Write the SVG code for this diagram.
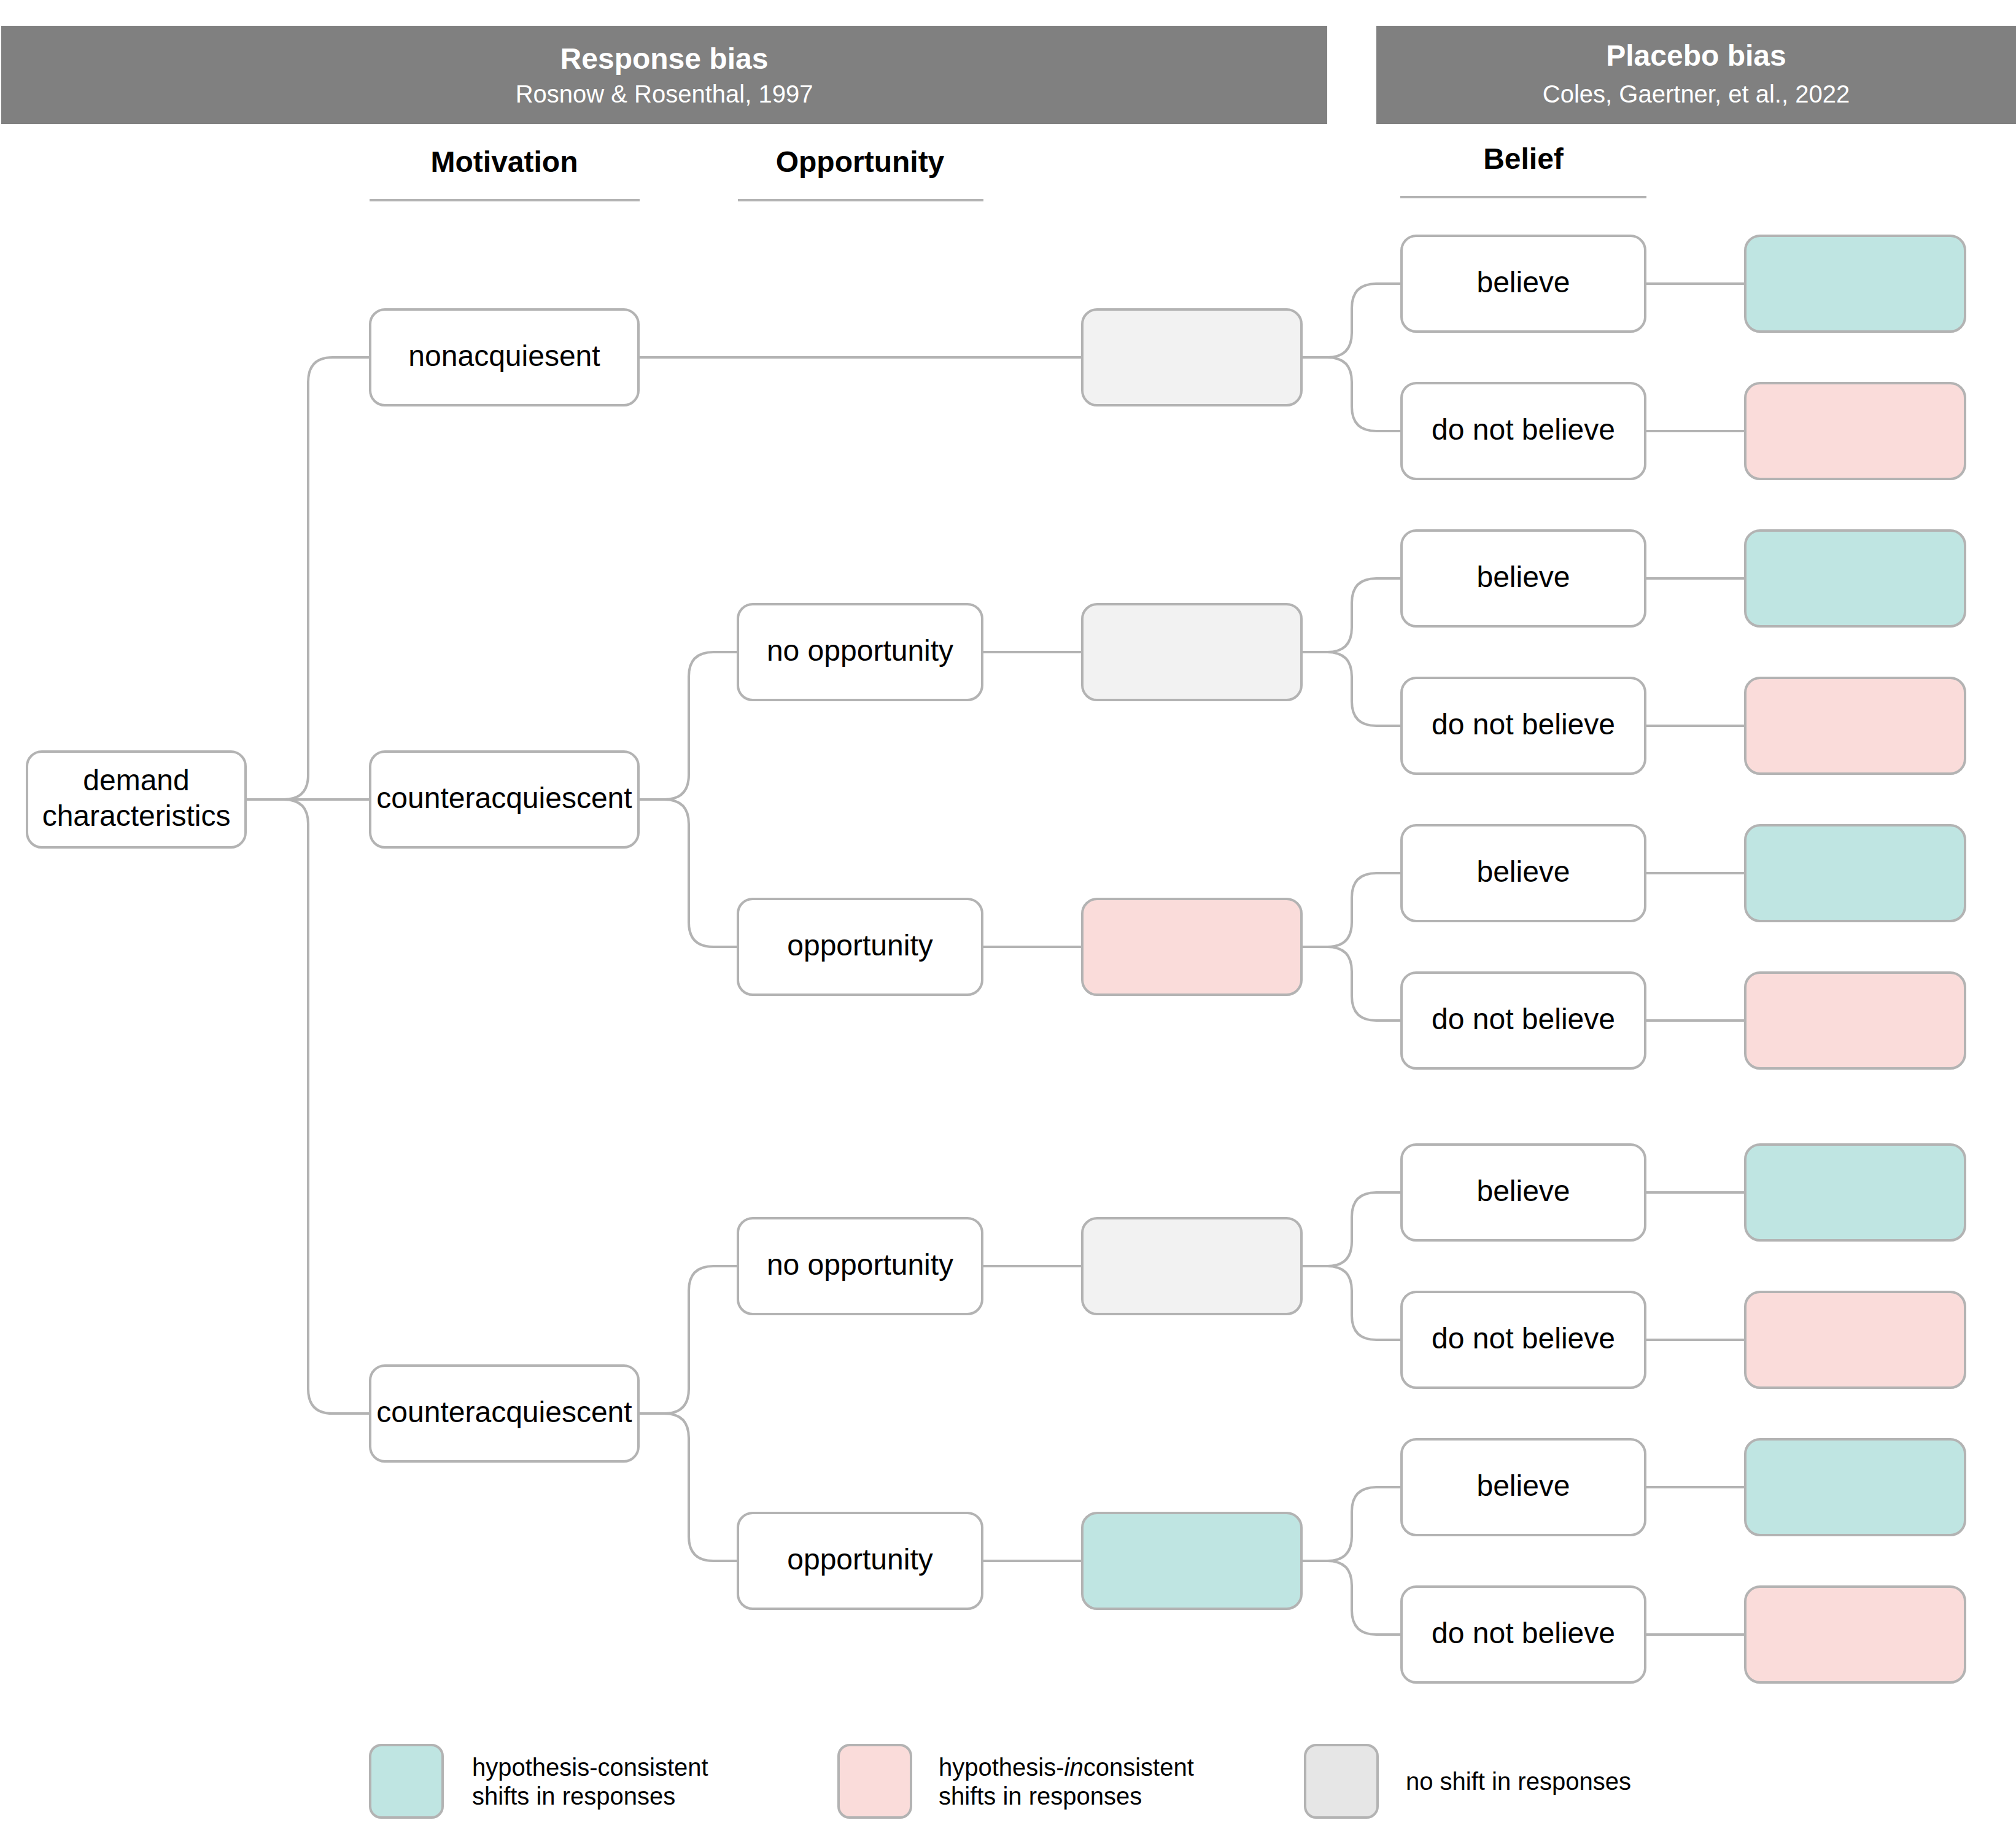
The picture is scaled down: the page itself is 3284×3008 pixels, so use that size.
<svg xmlns="http://www.w3.org/2000/svg" width="3284" height="3008" viewBox="0 0 3284 3008">
<style>
text{font-family:"Liberation Sans",Arial,sans-serif;fill:#000}
.hd{fill:#808080}
.ht{font-size:48px;font-weight:bold;fill:#fff;text-anchor:middle}
.hs{font-size:40px;fill:#fff;text-anchor:middle}
.ch{font-size:48px;font-weight:bold;text-anchor:middle}
.ul{stroke:#b3b3b3;stroke-width:4;fill:none}
.n rect{stroke:#b3b3b3;stroke-width:4}
.w{fill:#fff}
.g{fill:#f2f2f2}
.t{fill:#bfe5e2}
.p{fill:#fadcda}
.lg{fill:#e6e6e6}
.nt{font-size:48px;text-anchor:middle}
.lt{font-size:40px}
#connectors path{stroke:#b3b3b3;stroke-width:4;fill:none}
</style>
<rect width="3284" height="3008" fill="#fff"/>
<g id="header-response">
<rect class="hd" x="2" y="42" width="2160" height="160"/>
<text class="ht" x="1082" y="112">Response bias</text>
<text class="hs" x="1082" y="167">Rosnow &amp; Rosenthal, 1997</text>
</g>
<g id="header-placebo">
<rect class="hd" x="2242" y="42" width="1042" height="160"/>
<text class="ht" x="2763" y="107">Placebo bias</text>
<text class="hs" x="2763" y="167">Coles, Gaertner, et al., 2022</text>
</g>
<g id="col-motivation">
<text class="ch" x="821.5" y="280">Motivation</text>
<line class="ul" x1="602" y1="326" x2="1042" y2="326"/>
</g>
<g id="col-opportunity">
<text class="ch" x="1401" y="280">Opportunity</text>
<line class="ul" x1="1202" y1="326" x2="1602" y2="326"/>
</g>
<g id="col-belief">
<text class="ch" x="2481.5" y="275">Belief</text>
<line class="ul" x1="2281" y1="321" x2="2682" y2="321"/>
</g>

<g id="connectors">
<path d="M402 1302 H602"/>
<path d="M402 1302 H462 Q502 1302 502 1262 V622 Q502 582 542 582 H602"/>
<path d="M402 1302 H462 Q502 1302 502 1342 V2262 Q502 2302 542 2302 H602"/>
<path d="M1042 582 H1761"/>
<path d="M1042 1302 H1082 Q1122 1302 1122 1262 V1102 Q1122 1062 1162 1062 H1201"/>
<path d="M1042 1302 H1082 Q1122 1302 1122 1342 V1502 Q1122 1542 1162 1542 H1201"/>
<path d="M1042 2302 H1082 Q1122 2302 1122 2262 V2102 Q1122 2062 1162 2062 H1201"/>
<path d="M1042 2302 H1082 Q1122 2302 1122 2342 V2502 Q1122 2542 1162 2542 H1201"/>
<path d="M1602 1062 H1761"/>
<path d="M1602 1542 H1761"/>
<path d="M1602 2062 H1761"/>
<path d="M1602 2542 H1761"/>
<path d="M2122 582 H2162 Q2202 582 2202 542 V502 Q2202 462 2242 462 H2281"/>
<path d="M2122 582 H2162 Q2202 582 2202 622 V662 Q2202 702 2242 702 H2281"/>
<path d="M2122 1062 H2162 Q2202 1062 2202 1022 V982 Q2202 942 2242 942 H2281"/>
<path d="M2122 1062 H2162 Q2202 1062 2202 1102 V1142 Q2202 1182 2242 1182 H2281"/>
<path d="M2122 1542 H2162 Q2202 1542 2202 1502 V1462 Q2202 1422 2242 1422 H2281"/>
<path d="M2122 1542 H2162 Q2202 1542 2202 1582 V1622 Q2202 1662 2242 1662 H2281"/>
<path d="M2122 2062 H2162 Q2202 2062 2202 2022 V1982 Q2202 1942 2242 1942 H2281"/>
<path d="M2122 2062 H2162 Q2202 2062 2202 2102 V2142 Q2202 2182 2242 2182 H2281"/>
<path d="M2122 2542 H2162 Q2202 2542 2202 2502 V2462 Q2202 2422 2242 2422 H2281"/>
<path d="M2122 2542 H2162 Q2202 2542 2202 2582 V2622 Q2202 2662 2242 2662 H2281"/>
<path d="M2682 462 H2842"/>
<path d="M2682 702 H2842"/>
<path d="M2682 942 H2842"/>
<path d="M2682 1182 H2842"/>
<path d="M2682 1422 H2842"/>
<path d="M2682 1662 H2842"/>
<path d="M2682 1942 H2842"/>
<path d="M2682 2182 H2842"/>
<path d="M2682 2422 H2842"/>
<path d="M2682 2662 H2842"/>
</g>

<g id="demand" class="n"><rect class="w" x="44" y="1224" width="356" height="156" rx="24"/>
<text class="nt" x="222" y="1287">demand</text><text class="nt" x="222" y="1345">characteristics</text></g>

<g id="nonacq" class="n"><rect class="w" x="603" y="504" width="437" height="156" rx="24"/><text class="nt" x="821.5" y="596">nonacquiesent</text></g>
<g id="counter1" class="n"><rect class="w" x="603" y="1224" width="437" height="156" rx="24"/><text class="nt" x="821.5" y="1316">counteracquiescent</text></g>
<g id="counter2" class="n"><rect class="w" x="603" y="2224" width="437" height="156" rx="24"/><text class="nt" x="821.5" y="2316">counteracquiescent</text></g>

<g id="noopp1" class="n"><rect class="w" x="1202" y="984" width="398" height="156" rx="24"/><text class="nt" x="1401" y="1076">no opportunity</text></g>
<g id="opp1" class="n"><rect class="w" x="1202" y="1464" width="398" height="156" rx="24"/><text class="nt" x="1401" y="1556">opportunity</text></g>
<g id="noopp2" class="n"><rect class="w" x="1202" y="1984" width="398" height="156" rx="24"/><text class="nt" x="1401" y="2076">no opportunity</text></g>
<g id="opp2" class="n"><rect class="w" x="1202" y="2464" width="398" height="156" rx="24"/><text class="nt" x="1401" y="2556">opportunity</text></g>

<g id="out1" class="n"><rect class="g" x="1763" y="504" width="357" height="156" rx="24"/></g>
<g id="out2" class="n"><rect class="g" x="1763" y="984" width="357" height="156" rx="24"/></g>
<g id="out3" class="n"><rect class="p" x="1763" y="1464" width="357" height="156" rx="24"/></g>
<g id="out4" class="n"><rect class="g" x="1763" y="1984" width="357" height="156" rx="24"/></g>
<g id="out5" class="n"><rect class="t" x="1763" y="2464" width="357" height="156" rx="24"/></g>

<g id="bel1" class="n"><rect class="w" x="2283" y="384" width="397" height="156" rx="24"/><text class="nt" x="2481.5" y="476">believe</text></g>
<g id="bel2" class="n"><rect class="w" x="2283" y="624" width="397" height="156" rx="24"/><text class="nt" x="2481.5" y="716">do not believe</text></g>
<g id="bel3" class="n"><rect class="w" x="2283" y="864" width="397" height="156" rx="24"/><text class="nt" x="2481.5" y="956">believe</text></g>
<g id="bel4" class="n"><rect class="w" x="2283" y="1104" width="397" height="156" rx="24"/><text class="nt" x="2481.5" y="1196">do not believe</text></g>
<g id="bel5" class="n"><rect class="w" x="2283" y="1344" width="397" height="156" rx="24"/><text class="nt" x="2481.5" y="1436">believe</text></g>
<g id="bel6" class="n"><rect class="w" x="2283" y="1584" width="397" height="156" rx="24"/><text class="nt" x="2481.5" y="1676">do not believe</text></g>
<g id="bel7" class="n"><rect class="w" x="2283" y="1864" width="397" height="156" rx="24"/><text class="nt" x="2481.5" y="1956">believe</text></g>
<g id="bel8" class="n"><rect class="w" x="2283" y="2104" width="397" height="156" rx="24"/><text class="nt" x="2481.5" y="2196">do not believe</text></g>
<g id="bel9" class="n"><rect class="w" x="2283" y="2344" width="397" height="156" rx="24"/><text class="nt" x="2481.5" y="2436">believe</text></g>
<g id="bel10" class="n"><rect class="w" x="2283" y="2584" width="397" height="156" rx="24"/><text class="nt" x="2481.5" y="2676">do not believe</text></g>

<g id="res1" class="n"><rect class="t" x="2843" y="384" width="358" height="156" rx="24"/></g>
<g id="res2" class="n"><rect class="p" x="2843" y="624" width="358" height="156" rx="24"/></g>
<g id="res3" class="n"><rect class="t" x="2843" y="864" width="358" height="156" rx="24"/></g>
<g id="res4" class="n"><rect class="p" x="2843" y="1104" width="358" height="156" rx="24"/></g>
<g id="res5" class="n"><rect class="t" x="2843" y="1344" width="358" height="156" rx="24"/></g>
<g id="res6" class="n"><rect class="p" x="2843" y="1584" width="358" height="156" rx="24"/></g>
<g id="res7" class="n"><rect class="t" x="2843" y="1864" width="358" height="156" rx="24"/></g>
<g id="res8" class="n"><rect class="p" x="2843" y="2104" width="358" height="156" rx="24"/></g>
<g id="res9" class="n"><rect class="t" x="2843" y="2344" width="358" height="156" rx="24"/></g>
<g id="res10" class="n"><rect class="p" x="2843" y="2584" width="358" height="156" rx="24"/></g>

<g id="legend-consistent" class="n"><rect class="t" x="603" y="2842" width="118" height="118" rx="18"/>
<text class="lt" x="769" y="2892">hypothesis-consistent</text><text class="lt" x="769" y="2939">shifts in responses</text></g>
<g id="legend-inconsistent" class="n"><rect class="p" x="1366" y="2842" width="118" height="118" rx="18"/>
<text class="lt" x="1529" y="2892">hypothesis-<tspan font-style="italic">in</tspan>consistent</text><text class="lt" x="1529" y="2939">shifts in responses</text></g>
<g id="legend-noshift" class="n"><rect class="lg" x="2126" y="2842" width="118" height="118" rx="18"/>
<text class="lt" x="2290" y="2915">no shift in responses</text></g>
</svg>
